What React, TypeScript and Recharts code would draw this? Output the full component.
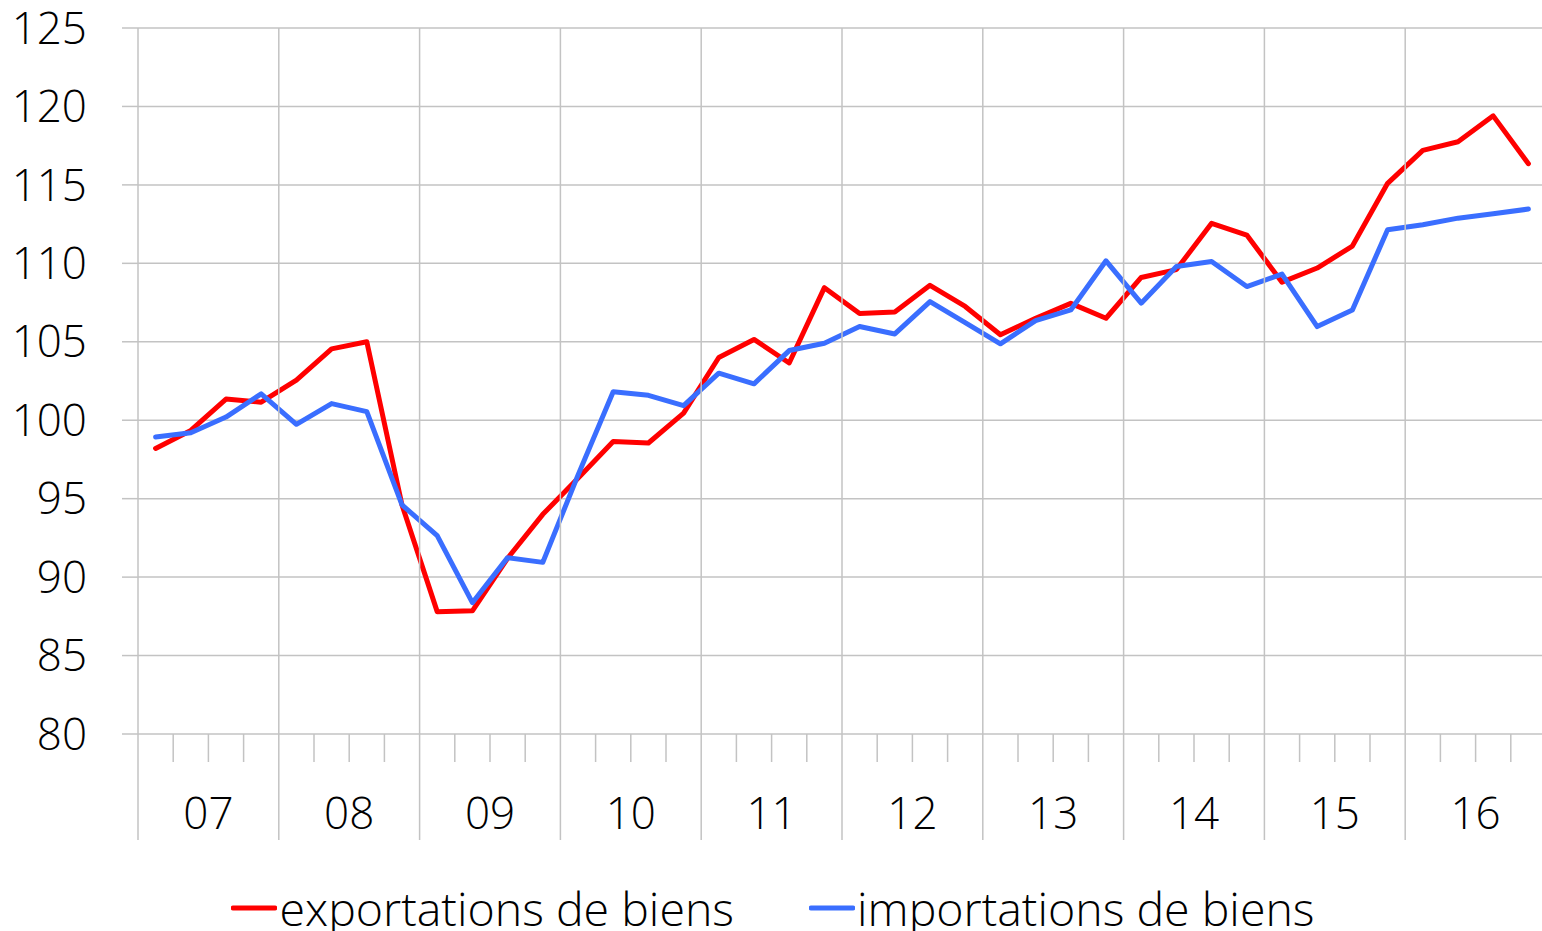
import React from 'react';
import { LineChart, Line, XAxis, YAxis, CartesianGrid, Legend } from 'recharts';

const quarters: string[] = [];
const yearLabels = ['07', '08', '09', '10', '11', '12', '13', '14', '15', '16'];
yearLabels.forEach((y) => { for (let q = 1; q <= 4; q++) quarters.push(`20${y}T${q}`); });

const exportations = [
  98.2, 99.35, 101.35, 101.15, 102.55, 104.55, 105.0, 94.6, 87.8, 87.85,
  91.2, 94.0, 96.3, 98.65, 98.55, 100.45, 104.0, 105.15, 103.65, 108.45,
  106.8, 106.9, 108.6, 107.25, 105.45, 106.5, 107.45, 106.5, 109.1, 109.6,
  112.55, 111.8, 108.8, 109.7, 111.1, 115.1, 117.2, 117.75, 119.4, 116.35,
];
const importations = [
  98.93, 99.2, 100.2, 101.68, 99.74, 101.06, 100.55, 94.6, 92.64, 88.37,
  91.24, 90.94, 96.5, 101.82, 101.59, 100.93, 103.0, 102.32, 104.44, 104.91,
  105.97, 105.5, 107.56, 106.22, 104.87, 106.35, 107.03, 110.16, 107.46, 109.8,
  110.12, 108.52, 109.31, 105.97, 107.03, 112.14, 112.46, 112.88, 113.16, 113.46,
];
const yTicks = [80, 85, 90, 95, 100, 105, 110, 115, 120, 125];
const seriesNames = { exp: 'exportations de biens', imp: 'importations de biens' };

const data = quarters.map((q, i) => ({ q, x: i + 0.5, exp: exportations[i], imp: importations[i] }));
const xTicks = Array.from({ length: quarters.length + 1 }, (_, i) => i);

const FONT = "'Open Sans', sans-serif";
const GRID = '#C3C3C3';
const RED = '#FF0000';
const BLUE = '#3A6EFF';

const W = 1560;
const H = 931;
const TOP = 28;
const XAXIS_H = 106;
const LEGEND_H = 91;
const PLOT_H = H - TOP - XAXIS_H - LEGEND_H;

const XTick = (props: any) => {
  const { x, y, payload } = props;
  const v = payload.value as number;
  if (v % 4 === 0) {
    return (
      <g>
        <line x1={x} x2={x} y1={y - PLOT_H} y2={y + XAXIS_H} stroke={GRID} strokeWidth={1.5} />
      </g>
    );
  }
  const lab = v % 4 === 2 ? yearLabels[(v - 2) / 4] : null;
  return (
    <g>
      <line x1={x} x2={x} y1={y} y2={y + 28} stroke={GRID} strokeWidth={1.5} />
      {lab !== null && (
        <text x={x} y={y + 78} textAnchor="middle" dominantBaseline="central"
          fontFamily={FONT} fontSize={44} fontWeight={300} fill="#000">{lab}</text>
      )}
    </g>
  );
};

const renderLegend = (props: any) => {
  const { payload } = props;
  return (
    <div style={{ height: LEGEND_H, position: 'relative' }}>
      <div style={{ position: 'absolute', top: 45, left: 0, right: 0, display: 'flex', justifyContent: 'center', alignItems: 'center', height: 46 }}>
        {payload.map((p: any, i: number) => (
          <div key={i} style={{ display: 'flex', alignItems: 'center', marginLeft: i === 0 ? 0 : 75 }}>
            <svg width={46} height={10} style={{ display: 'block' }}>
              <line x1={2} x2={44} y1={5} y2={5} stroke={p.color} strokeWidth={4.8} strokeLinecap="round" />
            </svg>
            <span style={{ fontFamily: FONT, fontSize: 46.5, fontWeight: 300, color: '#000', marginLeft: 2, lineHeight: '46px', whiteSpace: 'nowrap' }}>{p.value}</span>
          </div>
        ))}
      </div>
    </div>
  );
};

export default function App() {
  return (
    <div style={{ position: 'absolute', left: 0, top: 0, width: 1542, height: 931, overflow: 'hidden', background: '#fff' }}>
      <LineChart width={W} height={H} data={data} margin={{ top: TOP, right: 14, bottom: 0, left: 0 }}>
        <CartesianGrid vertical={false} stroke={GRID} strokeWidth={1.5} />
        <XAxis
          dataKey="x"
          type="number"
          domain={[0, quarters.length]}
          ticks={xTicks}
          interval={0}
          tick={<XTick />}
          tickLine={false}
          axisLine={false}
          tickSize={0}
          tickMargin={0}
          height={XAXIS_H}
          allowDecimals
        />
        <YAxis
          domain={[80, 125]}
          ticks={yTicks}
          interval={0}
          width={138}
          axisLine={false}
          tickLine={{ stroke: GRID, strokeWidth: 1.5 }}
          tickSize={16}
          tickMargin={35}
          tick={{ fontFamily: FONT, fontSize: 44, fontWeight: 300, fill: '#000' }}
        />
        <Legend verticalAlign="bottom" content={renderLegend} />
        <Line type="linear" dataKey="exp" name={seriesNames.exp} stroke={RED} strokeWidth={5} dot={false} isAnimationActive={false} strokeLinejoin="round" strokeLinecap="round" />
        <Line type="linear" dataKey="imp" name={seriesNames.imp} stroke={BLUE} strokeWidth={5} dot={false} isAnimationActive={false} strokeLinejoin="round" strokeLinecap="round" />
      </LineChart>
    </div>
  );
}
